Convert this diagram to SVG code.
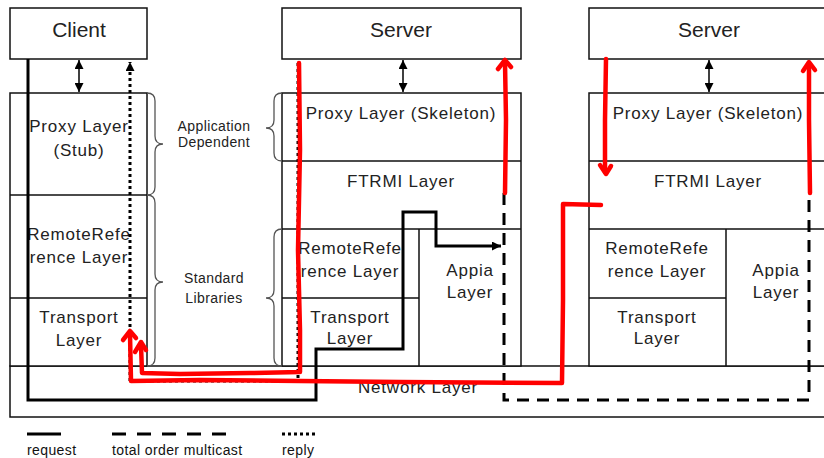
<svg xmlns="http://www.w3.org/2000/svg" width="824" height="458" viewBox="0 0 824 458">
<style>
.box{fill:#fff;stroke:#111;stroke-width:1.5}
.ln{fill:none;stroke:#111;stroke-width:1.5}
.t{font-family:"Liberation Sans",Arial,sans-serif;font-size:17px;fill:#222;text-anchor:middle;letter-spacing:0.8px}
.title{font-size:21px;letter-spacing:0}
.sm{font-size:14px;letter-spacing:0.4px}
.lg{font-family:"Liberation Sans",Arial,sans-serif;font-size:14px;fill:#111;letter-spacing:0.4px}
.brace{fill:none;stroke:#555;stroke-width:1.3}
.dbl{fill:none;stroke:#000;stroke-width:1.5}
.req{fill:none;stroke:#000;stroke-width:3}
.mc{fill:none;stroke:#000;stroke-width:3;stroke-dasharray:12 8}
.rep{fill:none;stroke:#000;stroke-width:3;stroke-dasharray:3 3}
.red{fill:none;stroke:#f00;stroke-width:4.5;stroke-linecap:round;stroke-linejoin:round}
</style>
<defs>
<marker id="ah" viewBox="0 0 10 10" refX="10" refY="5" markerWidth="9" markerHeight="9" markerUnits="userSpaceOnUse" orient="auto-start-reverse"><path d="M0,0 L10,5 L0,10 z" fill="#000"/></marker>
</defs>
<rect width="824" height="458" fill="#fff"/>

<g id="network">
<rect class="box" x="10" y="366" width="819" height="51"/>
<text class="t" x="418" y="393">Network Layer</text>
</g>

<g id="client">
<rect class="box" x="10" y="8" width="137" height="51"/>
<text class="t title" x="79" y="37">Client</text>
</g>
<g id="client-stack">
<rect class="box" x="10" y="93" width="137" height="273"/>
<path class="ln" d="M10,195 H147 M10,298 H147"/>
<text class="t" x="79" y="132">Proxy Layer</text>
<text class="t" x="79" y="156">(Stub)</text>
<text class="t" x="79" y="240">RemoteRefe</text>
<text class="t" x="79" y="263">rence Layer</text>
<text class="t" x="79" y="323">Transport</text>
<text class="t" x="79" y="346">Layer</text>
</g>

<g id="server1">
<rect class="box" x="282" y="8" width="239" height="51"/>
<text class="t title" x="401" y="37">Server</text>
</g>
<g id="server1-stack">
<rect class="box" x="282" y="93" width="239" height="273"/>
<path class="ln" d="M282,161 H521 M282,229 H521 M419,229 V366 M282,298 H419"/>
<text class="t" x="401" y="119">Proxy Layer (Skeleton)</text>
<text class="t" x="401" y="187">FTRMI Layer</text>
<text class="t" x="350" y="254">RemoteRefe</text>
<text class="t" x="350" y="277">rence Layer</text>
<text class="t" x="350" y="323">Transport</text>
<text class="t" x="350" y="344">Layer</text>
<text class="t" x="470" y="276">Appia</text>
<text class="t" x="470" y="298">Layer</text>
</g>

<g id="server2">
<rect class="box" x="589" y="8" width="240" height="51"/>
<text class="t title" x="709" y="37">Server</text>
</g>
<g id="server2-stack">
<rect class="box" x="589" y="93" width="240" height="273"/>
<path class="ln" d="M589,161 H829 M589,229 H829 M726,229 V366 M589,298 H726"/>
<text class="t" x="708" y="119">Proxy Layer (Skeleton)</text>
<text class="t" x="708" y="187">FTRMI Layer</text>
<text class="t" x="657" y="254">RemoteRefe</text>
<text class="t" x="657" y="277">rence Layer</text>
<text class="t" x="657" y="323">Transport</text>
<text class="t" x="657" y="344">Layer</text>
<text class="t" x="776" y="276">Appia</text>
<text class="t" x="776" y="298">Layer</text>
</g>

<g id="braces">
<path class="brace" d="M147,93 Q155,93 155,101 L155,136 Q155,144 163,144 Q155,144 155,152 L155,187 Q155,195 147,195"/>
<path class="brace" d="M147,195 Q155,195 155,203 L155,274 Q155,282 163,282 Q155,282 155,290 L155,358 Q155,366 147,366"/>
<path class="brace" d="M282,93 Q274,93 274,101 L274,120 Q274,128 266,128 Q274,128 274,136 L274,153 Q274,161 282,161"/>
<path class="brace" d="M282,229 Q274,229 274,237 L274,290 Q274,298 266,298 Q274,298 274,306 L274,358 Q274,366 282,366"/>
<text class="t sm" x="214" y="131">Application</text>
<text class="t sm" x="214" y="147">Dependent</text>
<text class="t sm" x="214" y="283">Standard</text>
<text class="t sm" x="214" y="303">Libraries</text>
</g>

<g id="connectors">
<path class="dbl" d="M79,60 V92" marker-start="url(#ah)" marker-end="url(#ah)"/>
<path class="dbl" d="M403,60 V92" marker-start="url(#ah)" marker-end="url(#ah)"/>
<path class="dbl" d="M709,60 V92" marker-start="url(#ah)" marker-end="url(#ah)"/>
<path class="rep" d="M298,63 V381 H130 V62" marker-end="url(#ah)"/>
<path class="mc" d="M504,193 V400 H809 V193"/>
<path class="req" d="M28,59 V400 H316 V349 H403 V212 H436 V246 H501" marker-end="url(#ah)"/>
<path class="red" d="M299,63 L300,150 L298,250 L300,330 L300,372 L250,373 L180,374 L142,373 L141,345"/>
<path class="red" d="M135,352 L141,342 L146,350"/>
<path class="red" d="M601,205 L563,204 L563,300 L562,383 L400,382 L300,381 L200,380 L131,381 L130,334"/>
<path class="red" d="M123,340 L130,331 L136,338"/>
<path class="red" d="M505,193 L506,120 L505,62"/>
<path class="red" d="M498,69 L505,60 L511,67"/>
<path class="red" d="M606,59 L605,120 L605,172"/>
<path class="red" d="M600,165 L606,174 L611,166"/>
<path class="red" d="M810,193 L809,120 L809,63"/>
<path class="red" d="M803,71 L809,62 L815,70"/>
</g>

<g id="legend">
<path class="req" d="M27,434 H61"/>
<path class="mc" d="M112,434 H230" style="stroke-dasharray:14 11"/>
<path class="rep" d="M282,434 H316"/>
<text class="lg" x="27" y="455">request</text>
<text class="lg" x="112" y="455">total order multicast</text>
<text class="lg" x="282" y="455">reply</text>
</g>
</svg>
